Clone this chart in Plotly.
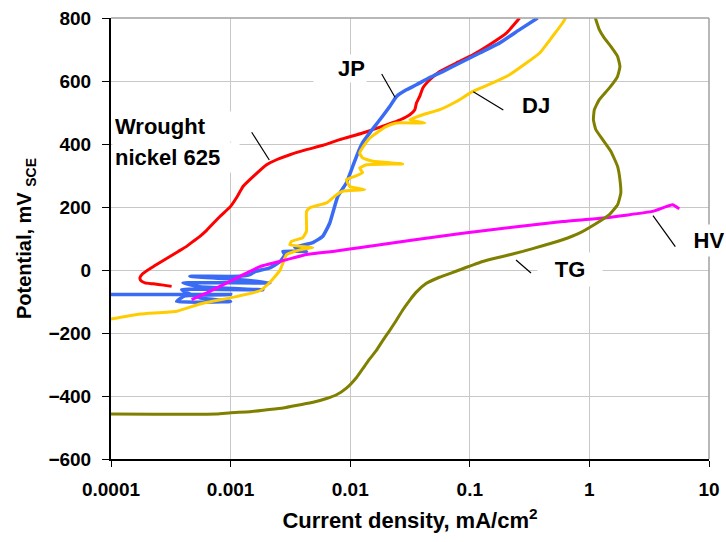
import plotly.graph_objects as go

# ---------------- data (current density mA/cm2, potential mV SCE) ----------------
wrought_i = [3.21e-4, 2.74e-4, 2.26e-4, 1.92e-4, 1.77e-4, 1.75e-4, 1.84e-4, 2.05e-4, 2.33e-4,
             2.65e-4, 3.11e-4, 3.65e-4, 4.29e-4, 4.87e-4, 5.54e-4, 6.3e-4, 8.14e-4, 1.0e-3,
             1.14e-3, 1.27e-3, 1.55e-3, 2.0e-3, 2.42e-3, 3.13e-3, 4.31e-3, 5.94e-3, 8.19e-3,
             1.27e-2, 2.01e-2, 2.62e-2, 3.15e-2, 3.47e-2, 3.58e-2, 3.81e-2, 4.05e-2, 4.63e-2,
             5.6e-2, 7.7e-2, 0.106, 0.146, 0.202, 0.261]
wrought_e = [-52, -48, -44, -41, -33, -23, -12, 1, 14,
             27, 43, 59, 75, 91, 107, 126, 170, 202,
             234, 265, 297, 334, 350, 366, 382, 396, 414,
             435, 461, 477, 493, 509, 530, 551, 578, 604,
             630, 657, 683, 715, 752, 800]

jp_i = [1.0e-4, 1.0e-3, 4.15e-4, 3.54e-4, 1.0e-3, 5.54e-4, 3.9e-4, 1.86e-3, 5.54e-4, 4.0e-4,
        2.13e-3, 1.2e-3, 4.57e-4, 1.2e-3, 1.45e-3, 1.6e-3, 2.13e-3, 2.58e-3, 2.84e-3, 2.74e-3,
        4.31e-3, 3.44e-3, 4.87e-3, 5.9e-3, 6.76e-3, 7.16e-3, 7.88e-3, 9.3e-3, 1.05e-2, 1.16e-2,
        1.27e-2, 1.46e-2, 1.77e-2, 2.14e-2, 2.44e-2, 2.95e-2, 3.58e-2, 4.62e-2, 5.94e-2, 8.24e-2,
        0.121, 0.178, 0.261, 0.369]
jp_e = [-78, -78, -82, -100, -100, -88, -63, -63, -53, -41,
        -41, -31, -20, -20, -15, -5, 7, 26, 49, 59,
        59, 71, 87, 107, 150, 182, 234, 277, 329, 372,
        404, 436, 477, 519, 551, 572, 588, 611, 630, 657,
        689, 721, 763, 800]

dj_i = [1.0e-4, 1.75e-4, 3.54e-4, 5.54e-4, 1.04e-3, 1.76e-3, 2.13e-3, 2.58e-3, 2.74e-3, 2.94e-3,
        3.79e-3, 4.87e-3, 3.13e-3, 3.23e-3, 4.02e-3, 4.31e-3, 4.31e-3, 4.6e-3, 6.34e-3, 7.69e-3,
        8.67e-3, 1.32e-2, 9.93e-3, 9.3e-3, 1.09e-2, 1.27e-2, 1.2e-2, 1.37e-2, 2.75e-2, 1.55e-2,
        1.27e-2, 1.2e-2, 1.32e-2, 1.46e-2, 1.66e-2, 2.01e-2, 2.44e-2, 4.2e-2, 3.15e-2, 4.04e-2,
        5.61e-2, 7.73e-2, 0.106, 0.155, 0.215, 0.297, 0.384, 0.493, 0.597, 0.641]
dj_e = [-156, -140, -131, -108, -87, -66, -39, -2, 22, 49,
        64, 71, 80, 91, 103, 123, 185, 198, 213, 239,
        250, 255, 265, 287, 297, 309, 324, 334, 337, 345,
        356, 371, 398, 419, 435, 456, 467, 467, 477, 493,
        509, 535, 567, 594, 620, 657, 689, 742, 784, 805]

hv_i = [4.72e-4, 6.72e-4, 8.62e-4, 1.2e-3, 1.76e-3, 2.58e-3, 4.31e-3, 7.16e-3, 1.27e-2,
        8.73e-2, 0.597, 1.29, 3.37, 4.96, 5.64]
hv_e = [-94, -68, -47, -20, 11, 27, 49, 59, 72,
        117, 154, 165, 186, 207, 194]

tg_i = [1.0e-4, 7.64e-4, 1.0e-3, 1.45e-3, 2.0e-3, 2.75e-3, 3.79e-3, 4.9e-3, 6.34e-3, 7.69e-3,
        9.3e-3, 1.13e-2, 1.27e-2, 1.45e-2, 1.65e-2, 1.87e-2, 2.13e-2, 2.42e-2, 2.75e-2, 3.13e-2,
        3.55e-2, 4.31e-2, 5.57e-2, 7.67e-2, 0.128, 0.188, 0.277, 0.406, 0.597, 0.824,
        1.13, 1.47, 1.72, 1.83, 1.80, 1.72, 1.51, 1.29, 1.13, 1.08,
        1.10, 1.21, 1.47, 1.72, 1.80, 1.72, 1.51, 1.33, 1.21, 1.13, 1.12]
tg_e = [-457, -457, -453, -450, -444, -438, -428, -420, -408, -396,
        -375, -341, -314, -283, -256, -224, -193, -161, -127, -97,
        -71, -43, -23, -4, 27, 43, 59, 77, 96, 117,
        147, 176, 207, 244, 287, 329, 377, 414, 446, 477,
        509, 541, 578, 615, 646, 678, 710, 737, 763, 796, 800]

x_tickvals = [0.0001, 0.001, 0.01, 0.1, 1, 10]
x_ticktext = ["0.0001", "0.001", "0.01", "0.1", "1", "10"]
y_tickvals = [-600, -400, -200, 0, 200, 400, 600, 800]

# ---------------- figure ----------------
W, H = 726, 542
L, R, T, B = 111, 17, 18, 83
PW, PH = W - L - R, H - T - B

def px(x):
    return (x - L) / PW

def py(y):
    return (H - B - y) / PH

FONT = "Liberation Sans, Arial, sans-serif"

fig = go.Figure()
series = [
    ("Wrought nickel 625", wrought_i, wrought_e, "#FF0000", 3),
    ("JP", jp_i, jp_e, "#3A6BF5", 3.5),
    ("DJ", dj_i, dj_e, "#FFCC00", 3),
    ("HV", hv_i, hv_e, "#FF00FF", 3),
    ("TG", tg_i, tg_e, "#808000", 3),
]
for name, xs, ys, col, w in series:
    fig.add_trace(go.Scatter(x=xs, y=ys, mode="lines", name=name,
                             line=dict(color=col, width=w, shape="spline", smoothing=0.4),
                             showlegend=False))

fig.update_layout(
    width=W, height=H, autosize=False,
    margin=dict(l=L, r=R, t=T, b=B),
    paper_bgcolor="white", plot_bgcolor="white",
    font=dict(family=FONT, color="black"),
    xaxis=dict(type="log", range=[-4, 1], tickvals=x_tickvals, ticktext=x_ticktext,
               automargin=False,
               showgrid=True, gridcolor="#C8C8C8", gridwidth=1,
               showline=True, linecolor="black", linewidth=2,
               ticks="outside", ticklen=6, tickcolor="black", tickwidth=1,
               ticklabelstandoff=6,
               tickfont=dict(family=FONT, size=19, weight="bold"),
               title=dict(text="Current density, mA/cm<sup>2</sup>",
                          font=dict(family=FONT, size=22, weight="bold"), standoff=14),
               zeroline=False),
    yaxis=dict(range=[-600, 800], tickvals=y_tickvals,
               automargin=False,
               showgrid=True, gridcolor="#C8C8C8", gridwidth=1,
               showline=True, linecolor="black", linewidth=2,
               ticks="outside", ticklen=7, tickcolor="black", tickwidth=1,
               ticklabelstandoff=7,
               tickfont=dict(family=FONT, size=19, weight="bold"),
               title=dict(text="Potential, mV <sub>SCE</sub>",
                          font=dict(family=FONT, size=20, weight="bold"), standoff=11),
               zeroline=False),
)

# gray top and right frame
fig.add_shape(type="line", xref="paper", yref="paper", x0=0, x1=1, y0=1, y1=1,
              line=dict(color="#A0A0A0", width=1.5))
fig.add_shape(type="line", xref="paper", yref="paper", x0=1, x1=1, y0=0, y1=1,
              line=dict(color="#A0A0A0", width=1.5))

# leader lines
leaders = [
    (251.7, 132.3, 269.3, 160.0),
    (381.7, 74.0, 395.0, 97.3),
    (473.3, 91.7, 503.3, 110.0),
    (653.0, 215.7, 675.3, 246.7),
    (516.0, 260.0, 531.0, 273.0),
]
for x0, y0, x1, y1 in leaders:
    fig.add_shape(type="line", xref="paper", yref="paper",
                  x0=px(x0), y0=py(y0), x1=px(x1), y1=py(y1),
                  line=dict(color="black", width=1.2))

lab_font = dict(family=FONT, size=22, weight="bold", color="black")

def label(text, x, y, xanchor="center", width=None, align="center", pad=3):
    kw = dict(text=text, xref="paper", yref="paper", x=px(x), y=py(y),
              xanchor=xanchor, yanchor="middle", showarrow=False,
              font=lab_font, bgcolor="white", borderpad=pad, align=align)
    if width is not None:
        kw["width"] = width
    fig.add_annotation(**kw)

label("Wrought", 112, 126, xanchor="left", width=122, align="left", pad=2)
label("nickel 625", 112, 157, xanchor="left", width=122, align="left", pad=2)
label("JP", 339.5, 68, width=50, align="right", pad=1)
label("DJ", 535.5, 105)
label("HV", 709, 240, width=34, pad=3)
label("TG", 569.5, 269, width=56, pad=4)

fig.write_html("out.html", config={"displayModeBar": False},
               post_script="document.body.style.margin='0';document.body.style.padding='0';")
